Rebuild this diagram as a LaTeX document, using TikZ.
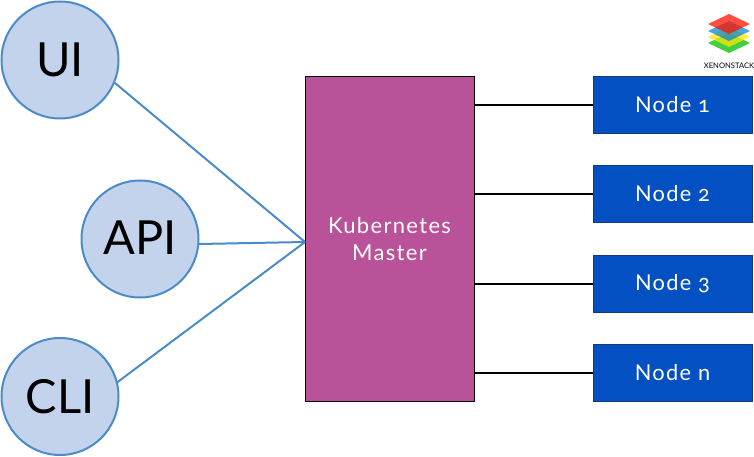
\documentclass[tikz,border=0pt]{standalone}
\usepackage{fontspec}
\setmainfont[Numbers=OldStyle]{Lato}
\newfontfamily\widefont[Numbers=OldStyle,LetterSpace=6]{Lato}
\begin{document}
\begin{tikzpicture}[x=1pt,y=-1pt,
  circ/.style={circle,draw=lineblue,fill=circfill,line width=2pt,minimum size=117pt,inner sep=0pt,font=\fontsize{47}{47}\selectfont,text=black},
  nodebox/.style={rectangle,draw=boxedge,fill=nodeblue,line width=1pt,minimum width=159pt,minimum height=57pt,inner sep=0pt,text=white,font=\widefont\fontsize{21.8}{24}\selectfont},
  master/.style={rectangle,draw=black,fill=masterpink,line width=1pt,minimum width=169pt,minimum height=325pt,inner sep=0pt,text=white,align=center,font=\widefont\fontsize{22}{27}\selectfont},
  bluelink/.style={draw=lineblue,line width=2pt},
  blacklink/.style={draw=black,line width=1.8pt},
  layer/.style={opacity=0.75}]
\definecolor{lineblue}{HTML}{4A8BC8}
\definecolor{circfill}{HTML}{C3D3EC}
\definecolor{nodeblue}{HTML}{0250C2}
\definecolor{boxedge}{HTML}{163A78}
\definecolor{masterpink}{HTML}{BA529A}
\useasboundingbox (0,0) rectangle (754,457);
\node[master] (m) at (389.5,239) {Kubernetes\\Master};
\node[circ] (ui) at (60,60) {\raisebox{1pt}{UI}};
\node[circ] (api) at (140,239) {\raisebox{2pt}{API}};
\node[circ] (cli) at (60,396.5) {\raisebox{1pt}{CLI}};
\coordinate (hub) at (305,242);
\draw[bluelink] (ui) ++(55,23) coordinate (uie) -- (hub);
\draw[bluelink] (api) ++(59,5) coordinate (apie) -- (hub);
\draw[bluelink] (cli) ++(57,-14) coordinate (clie) -- (hub);
\node[nodebox] (n1) at (672.5,105) {Node 1};
\node[nodebox] (n2) at (672.5,194) {Node 2};
\node[nodebox] (n3) at (672.5,284) {Node 3};
\node[nodebox] (n4) at (672.5,373) {Node n};
\foreach \n in {n1,n2,n3,n4}
  \draw[blacklink] (m.east |- \n.west) -- (\n.west);
\fill[layer,green!75!black] (708,43) -- (729,33) -- (750,43) -- (729,53) -- cycle;
\fill[layer,yellow!90!orange] (708,37) -- (729,27) -- (750,37) -- (729,47) -- cycle;
\fill[layer,cyan!70!blue] (708,31) -- (729,21) -- (750,31) -- (729,41) -- cycle;
\fill[layer,red!85!orange] (708,24) -- (729,14) -- (750,24) -- (729,34) -- cycle;
\node[font=\fontsize{7.6}{8}\selectfont,text=black,inner sep=0pt] (logo) at (729,65.5) {XENONSTACK};
\end{tikzpicture}
\end{document}
